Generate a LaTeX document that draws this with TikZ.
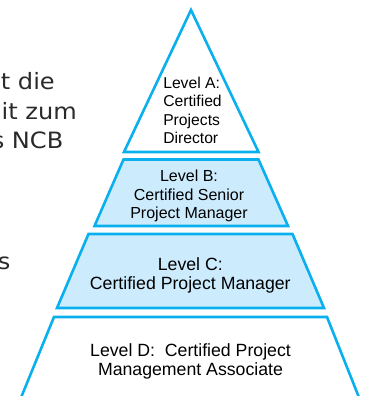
\documentclass[tikz,border=0pt]{standalone}
\usepackage{fontspec}
\setmainfont{Liberation Sans}
\newfontfamily\bodyfont[FakeStretch=1.07]{DejaVu Sans}
\definecolor{tierline}{HTML}{0AAFEE}
\definecolor{tierfill}{HTML}{CCEBFC}
\definecolor{bodygray}{HTML}{2A2A2A}
\begin{document}
\begin{tikzpicture}[x=1pt, y=-1pt,
  tier/.style={draw=tierline, line width=2.6pt},
  tiertext/.style={align=center, inner sep=0pt, text=black},
  bodytext/.style={anchor=base east, inner sep=0pt, text=bodygray,
    font=\bodyfont\fontsize{22.5}{29}\selectfont}]
\path[use as bounding box, clip] (0,0) rectangle (365,396);
% text cut off at the left edge
\node[bodytext] (lineA) at (55,89.5) {t die};
\node[bodytext] (lineB) at (77,119) {it zum};
\node[bodytext] (lineC) at (63.5,148) {s NCB};
\node[bodytext] (lineD) at (10.5,269) {s};
% pyramid tiers
\draw[tier] (191,10) -- (258.5,152) -- (124,152) -- cycle;
\draw[tier, fill=tierfill] (123.5,159.5) -- (258.5,159.5) -- (288,226) -- (94.5,226) -- cycle;
\draw[tier, fill=tierfill] (88.5,234) -- (292.5,234) -- (324,308) -- (57,308) -- cycle;
\draw[tier] (54,317) -- (327,317) -- (362,405) -- (18,405) -- cycle;
% tier labels
\node[tiertext, align=left, font=\fontsize{15.7}{18.5}\selectfont] (levelA) at (192.5,110.5)
  {Level A:\\Certified\\Projects\\Director};
\node[tiertext, font=\fontsize{16}{18.5}\selectfont] (levelB) at (189,196)
  {Level B:\\Certified Senior\\Project Manager};
\node[tiertext, font=\fontsize{17.7}{19}\selectfont] (levelC) at (190.3,275.5)
  {Level C:\\Certified Project Manager};
\node[tiertext, font=\fontsize{17.7}{19}\selectfont] (levelD) at (190.5,361.5)
  {Level D:\ \ Certified Project\\Management Associate};
\end{tikzpicture}
\end{document}
